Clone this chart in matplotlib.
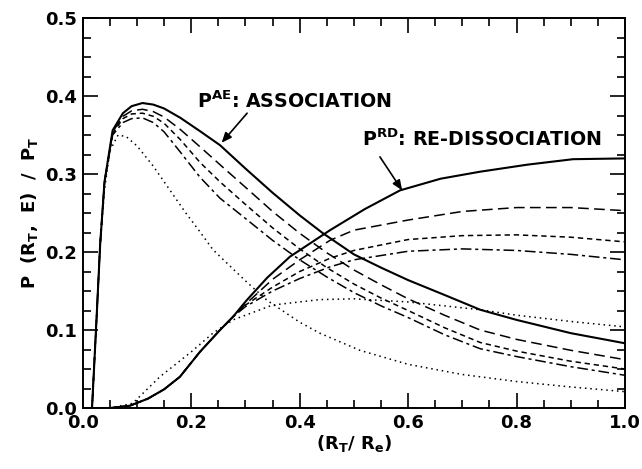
import matplotlib
matplotlib.use("Agg")
from matplotlib import pyplot as plt
from matplotlib.ticker import MultipleLocator

plt.rcParams['font.family'] = ['DejaVu Sans']
plt.rcParams['font.weight'] = 'bold'
plt.rcParams['mathtext.fontset'] = 'dejavusans'
plt.rcParams['mathtext.default'] = 'bf'

# P^AE association curves
ae_solid_x = [0.0, 0.017, 0.025, 0.032, 0.04, 0.055, 0.074, 0.09, 0.11, 0.13, 0.15, 0.18,
              0.216, 0.253, 0.3, 0.35, 0.4, 0.443, 0.5, 0.55, 0.6, 0.667, 0.733, 0.8, 0.9, 1.0]
ae_solid_y = [0.0, 0.0, 0.11, 0.21, 0.29, 0.356, 0.378, 0.387, 0.391, 0.389, 0.384, 0.372,
              0.355, 0.337, 0.307, 0.276, 0.247, 0.224, 0.197, 0.180, 0.164, 0.145, 0.126, 0.113, 0.096, 0.083]
ae_long_x = [0.0, 0.017, 0.025, 0.032, 0.04, 0.055, 0.074, 0.09, 0.11, 0.13, 0.15, 0.18,
             0.216, 0.253, 0.3, 0.35, 0.4, 0.45, 0.5, 0.55, 0.6, 0.667, 0.733, 0.8, 0.9, 1.0]
ae_long_y = [0.0, 0.0, 0.11, 0.21, 0.29, 0.354, 0.374, 0.381, 0.383, 0.380, 0.373, 0.357,
             0.335, 0.312, 0.283, 0.252, 0.224, 0.199, 0.177, 0.158, 0.140, 0.119, 0.100, 0.088, 0.074, 0.062]
ae_short_x = [0.0, 0.017, 0.025, 0.032, 0.04, 0.055, 0.074, 0.09, 0.11, 0.13, 0.15, 0.18,
              0.216, 0.253, 0.3, 0.35, 0.4, 0.45, 0.5, 0.55, 0.6, 0.667, 0.733, 0.8, 0.9, 1.0]
ae_short_y = [0.0, 0.0, 0.11, 0.21, 0.29, 0.352, 0.371, 0.377, 0.378, 0.374, 0.365, 0.344,
              0.315, 0.290, 0.261, 0.231, 0.204, 0.180, 0.159, 0.141, 0.125, 0.103, 0.084, 0.073, 0.060, 0.050]
ae_dd_x = [0.0, 0.017, 0.025, 0.032, 0.04, 0.055, 0.074, 0.09, 0.11, 0.13, 0.15, 0.18,
           0.216, 0.253, 0.3, 0.35, 0.4, 0.45, 0.5, 0.55, 0.6, 0.667, 0.733, 0.8, 0.9, 1.0]
ae_dd_y = [0.0, 0.0, 0.11, 0.21, 0.29, 0.350, 0.366, 0.371, 0.372, 0.366, 0.354, 0.328,
           0.296, 0.269, 0.243, 0.215, 0.190, 0.168, 0.148, 0.131, 0.116, 0.094, 0.076, 0.066, 0.053, 0.042]
ae_dot_x = [0.0, 0.017, 0.025, 0.032, 0.04, 0.05, 0.065, 0.08, 0.1, 0.13, 0.157, 0.19,
            0.216, 0.24, 0.3, 0.34, 0.4, 0.437, 0.511, 0.6, 0.7, 0.8, 0.9, 1.0]
ae_dot_y = [0.0, 0.0, 0.11, 0.21, 0.28, 0.33, 0.350, 0.348, 0.336, 0.310, 0.283, 0.250,
            0.226, 0.203, 0.163, 0.138, 0.110, 0.096, 0.074, 0.056, 0.043, 0.034, 0.027, 0.021]

# P^RD re-dissociation curves
rd_solid_x = [0.0, 0.05, 0.087, 0.12, 0.15, 0.179, 0.216, 0.253, 0.277, 0.302, 0.34, 0.382,
              0.456, 0.52, 0.585, 0.66, 0.733, 0.82, 0.904, 1.0]
rd_solid_y = [0.0, 0.0, 0.003, 0.012, 0.024, 0.040, 0.072, 0.100, 0.117, 0.138, 0.167, 0.194,
              0.228, 0.255, 0.279, 0.294, 0.303, 0.312, 0.319, 0.320]
rd_long_x = [0.0, 0.05, 0.087, 0.12, 0.15, 0.179, 0.216, 0.253, 0.277, 0.3, 0.35, 0.4,
             0.456, 0.5, 0.6, 0.7, 0.8, 0.9, 1.0]
rd_long_y = [0.0, 0.0, 0.003, 0.012, 0.024, 0.040, 0.072, 0.100, 0.117, 0.133, 0.165, 0.190,
             0.215, 0.228, 0.241, 0.252, 0.257, 0.257, 0.253]
rd_short_x = [0.0, 0.05, 0.087, 0.12, 0.15, 0.179, 0.216, 0.253, 0.277, 0.3, 0.35, 0.4,
              0.456, 0.5, 0.6, 0.7, 0.8, 0.9, 1.0]
rd_short_y = [0.0, 0.0, 0.003, 0.012, 0.024, 0.040, 0.072, 0.100, 0.117, 0.132, 0.155, 0.175,
              0.192, 0.202, 0.216, 0.221, 0.222, 0.219, 0.213]
rd_dd_x = [0.0, 0.05, 0.087, 0.12, 0.15, 0.179, 0.216, 0.253, 0.277, 0.3, 0.35, 0.4,
           0.456, 0.5, 0.6, 0.7, 0.8, 0.9, 1.0]
rd_dd_y = [0.0, 0.0, 0.003, 0.012, 0.024, 0.040, 0.072, 0.100, 0.117, 0.130, 0.150, 0.166,
           0.181, 0.190, 0.201, 0.204, 0.202, 0.197, 0.190]
rd_dot_x = [0.0, 0.05, 0.092, 0.142, 0.2, 0.24, 0.277, 0.35, 0.437, 0.5, 0.6, 0.733,
            0.8, 0.9, 1.0]
rd_dot_y = [0.0, 0.0, 0.006, 0.040, 0.072, 0.096, 0.113, 0.132, 0.139, 0.140, 0.136, 0.126,
            0.119, 0.111, 0.104]

fig = plt.figure(figsize=(6.42, 4.69), dpi=100)
ax = fig.add_axes([0.129, 0.130, 0.8445, 0.8316])

lw = 1.1
styles = {
    'solid': dict(linestyle='-', linewidth=1.5),
    'long': dict(linestyle=(0, (7, 3.5)), linewidth=lw),
    'short': dict(linestyle=(0, (3.5, 2.5)), linewidth=lw),
    'dd': dict(linestyle=(0, (7, 2.5, 2, 2.5)), linewidth=lw),
    'dot': dict(linestyle=(0, (1, 2.5)), linewidth=lw),
}
ax.plot(ae_solid_x, ae_solid_y, color='k', **styles['solid'])
ax.plot(ae_long_x, ae_long_y, color='k', **styles['long'])
ax.plot(ae_short_x, ae_short_y, color='k', **styles['short'])
ax.plot(ae_dd_x, ae_dd_y, color='k', **styles['dd'])
ax.plot(ae_dot_x, ae_dot_y, color='k', **styles['dot'])
ax.plot(rd_solid_x, rd_solid_y, color='k', **styles['solid'])
ax.plot(rd_long_x, rd_long_y, color='k', **styles['long'])
ax.plot(rd_short_x, rd_short_y, color='k', **styles['short'])
ax.plot(rd_dd_x, rd_dd_y, color='k', **styles['dd'])
ax.plot(rd_dot_x, rd_dot_y, color='k', **styles['dot'])

ax.set_xlim(0, 1.0)
ax.set_ylim(0, 0.5)
ax.xaxis.set_major_locator(MultipleLocator(0.2))
ax.xaxis.set_minor_locator(MultipleLocator(0.05))
ax.yaxis.set_major_locator(MultipleLocator(0.1))
ax.yaxis.set_minor_locator(MultipleLocator(0.025))
ax.tick_params(which='both', direction='in', top=True, right=True, width=1.2,
               labelsize=13)
ax.tick_params(axis='y', pad=4)
ax.tick_params(axis='x', pad=4)
ax.tick_params(which='major', length=11)
ax.tick_params(which='minor', length=6)
ax.xaxis.set_major_formatter(plt.FuncFormatter(lambda v, p: '%.1f' % v))
ax.yaxis.set_major_formatter(plt.FuncFormatter(lambda v, p: '%.1f' % v))
for s in ax.spines.values():
    s.set_linewidth(1.4)

ax.set_xlabel(r'(R$_{T}$/ R$_{e}$)', fontsize=13, fontweight='bold', labelpad=1)
ax.set_ylabel(r'P  (R$_{T}$,  E)  /  P$_{T}$', fontsize=13, fontweight='bold', labelpad=4)

ax.text(0.21, 0.393, r'P$^{AE}$: ASSOCIATION', fontsize=13.7, fontweight='bold', va='center')
ax.annotate('', xy=(0.256, 0.340), xytext=(0.303, 0.378),
            arrowprops=dict(arrowstyle='-|>,head_length=0.6,head_width=0.25', color='k', lw=1.2,
                            shrinkA=0, shrinkB=0))
ax.text(0.515, 0.344, r'P$^{RD}$: RE-DISSOCIATION', fontsize=13.7, fontweight='bold', va='center')
ax.annotate('', xy=(0.589, 0.279), xytext=(0.548, 0.322),
            arrowprops=dict(arrowstyle='-|>,head_length=0.6,head_width=0.25', color='k', lw=1.2,
                            shrinkA=0, shrinkB=0))

fig.savefig('out.png', dpi=100)
